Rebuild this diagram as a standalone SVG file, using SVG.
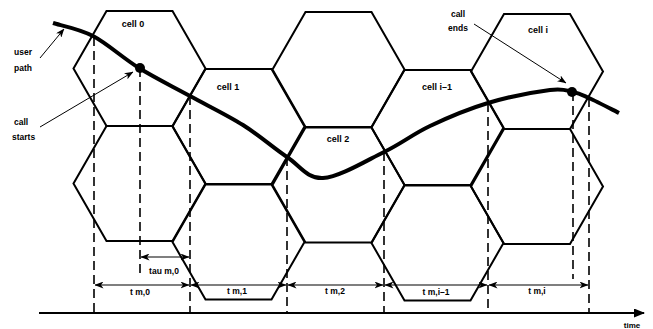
<svg xmlns="http://www.w3.org/2000/svg" width="653" height="329" viewBox="0 0 653 329">
<style>
.hex{fill:none;stroke:#000;stroke-width:2;stroke-linejoin:miter}
.dash{fill:none;stroke:#000;stroke-width:1.6;stroke-dasharray:9,5}
.dim{fill:none;stroke:#000;stroke-width:1.2}
.thin{fill:none;stroke:#000;stroke-width:1}
.path{fill:none;stroke:#000;stroke-width:4;stroke-linecap:butt}
text{font-family:"Liberation Sans",Arial,sans-serif;font-weight:bold;font-size:8.5px;fill:#000}
.c{text-anchor:middle}
.cl{font-size:9px}
</style>
<defs>
<marker id="ah" markerWidth="9" markerHeight="7" refX="8.5" refY="3.5" orient="auto-start-reverse" markerUnits="userSpaceOnUse">
<path d="M0,0 L9,3.5 L0,7 L2.5,3.5 z" fill="#000"/>
</marker>
<marker id="ax" markerWidth="11" markerHeight="9" refX="10" refY="4.5" orient="auto" markerUnits="userSpaceOnUse">
<path d="M0,0 L11,4.5 L0,9 z" fill="#000"/>
</marker>
</defs>
<g id="cells">
<g id="cell0"><path class="hex" d="M73.5,68.5 L106.5,11 L172.5,11 L205.5,68.5 L172.5,126 L106.5,126 Z"/><text class="c cl" x="133" y="27">cell 0</text></g>
<g id="cell0b"><path class="hex" d="M73.5,183.5 L106.5,126 L172.5,126 L205.5,183.5 L172.5,241 L106.5,241 Z"/></g>
<g id="cell1"><path class="hex" d="M172.5,126.5 L205.5,69 L271.5,69 L304.5,126.5 L271.5,184 L205.5,184 Z"/><text class="c cl" x="228" y="90">cell 1</text></g>
<g id="cell1b"><path class="hex" d="M172.5,242 L205.5,184.5 L271.5,184.5 L304.5,242 L271.5,299.5 L205.5,299.5 Z"/></g>
<g id="cell2a"><path class="hex" d="M272.5,69.5 L305.5,12 L371.5,12 L404.5,69.5 L371.5,127 L305.5,127 Z"/></g>
<g id="cell2"><path class="hex" d="M272.5,185 L305.5,127.5 L371.5,127.5 L404.5,185 L371.5,242.5 L305.5,242.5 Z"/><text class="c cl" x="338" y="142">cell 2</text></g>
<g id="cellim1"><path class="hex" d="M371.5,127.5 L404.5,70 L470.5,70 L503.5,127.5 L470.5,185 L404.5,185 Z"/><text class="c cl" x="437" y="90">cell i–1</text></g>
<g id="cellim1b"><path class="hex" d="M371.5,243 L404.5,185.5 L470.5,185.5 L503.5,243 L470.5,300.5 L404.5,300.5 Z"/></g>
<g id="celli"><path class="hex" d="M471,71.5 L504,14 L570,14 L603,71.5 L570,129 L504,129 Z"/><text class="c cl" x="538" y="33">cell i</text></g>
<g id="cellib"><path class="hex" d="M471,186.5 L504,129 L570,129 L603,186.5 L570,244 L504,244 Z"/></g>
</g>
<g id="connectors">
<path class="dash" d="M94,37 V313 M140,68 V278 M190,96 V313 M287,157 V313 M384,152 V313 M488,103 V313 M573,92 V279 M589,98 V313"/>
<path class="path" d="M53,23 C59.7,25.2 78.7,28.5 93,36 C107.3,43.5 122.8,58 139,68 C155.2,78 172.7,86.5 190,96 C207.3,105.5 226.8,114.8 243,125 C259.2,135.2 273.7,148.2 287,157 C300.3,165.8 306.8,178.8 323,178 C339.2,177.2 366.2,160.7 384,152 C401.8,143.3 412.7,134.2 430,126 C447.3,117.8 468,109 488,103 C508,97 535.8,91.8 550,90 C564.2,88.2 566.5,90.7 573,92 C579.5,93.3 581.3,94.5 589,98 C596.7,101.5 614,110.5 619,113"/>
<circle cx="140" cy="68" r="5" fill="#000"/>
<circle cx="572" cy="92" r="5" fill="#000"/>
<line class="thin" x1="40" y1="58" x2="64" y2="29" marker-end="url(#ah)"/>
<line class="thin" x1="40" y1="127" x2="133" y2="72" marker-end="url(#ah)"/>
<line class="thin" x1="474" y1="24" x2="566" y2="83" marker-end="url(#ah)"/>
<line class="dim" x1="141" y1="257" x2="189" y2="257" marker-start="url(#ah)" marker-end="url(#ah)"/>
<line class="dim" x1="95" y1="285" x2="189" y2="285" marker-start="url(#ah)" marker-end="url(#ah)"/>
<line class="dim" x1="191" y1="285" x2="286" y2="285" marker-start="url(#ah)" marker-end="url(#ah)"/>
<line class="dim" x1="288" y1="285" x2="383" y2="285" marker-start="url(#ah)" marker-end="url(#ah)"/>
<line class="dim" x1="385" y1="285" x2="487" y2="285" marker-start="url(#ah)" marker-end="url(#ah)"/>
<line class="dim" x1="489" y1="285" x2="588" y2="285" marker-start="url(#ah)" marker-end="url(#ah)"/>
<line x1="39" y1="313" x2="644" y2="313" stroke="#000" stroke-width="2" marker-end="url(#ax)"/>
</g>
<g id="labels">
<text x="14" y="55">user</text>
<text x="14" y="71">path</text>
<text x="14" y="125">call</text>
<text x="12" y="140">starts</text>
<text class="c" x="458" y="17">call</text>
<text class="c" x="458" y="31">ends</text>
<text class="c" x="164" y="274">tau m,0</text>
<text class="c" x="140" y="295">t m,0</text>
<text class="c" x="237" y="294">t m,1</text>
<text class="c" x="335" y="294">t m,2</text>
<text class="c" x="436" y="295">t m,i–1</text>
<text class="c" x="537" y="294">t m,i</text>
<text class="c" x="632" y="328" style="font-size:8px">time</text>
</g>
</svg>
